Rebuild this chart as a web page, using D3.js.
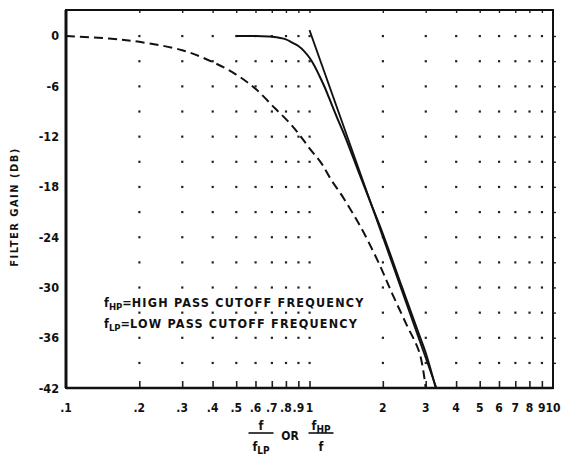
<!DOCTYPE html>
<html>
<head>
<meta charset="utf-8">
<script src="https://cdn.jsdelivr.net/npm/d3@7"></script>
<style>
  body { margin: 0; background: #fff; }
  text { font-family: "DejaVu Sans Condensed", "DejaVu Sans", sans-serif; font-weight: bold; fill: #111; }
</style>
</head>
<body>
<script>
var xTicks = [0.1, 0.2, 0.3, 0.4, 0.5, 0.6, 0.7, 0.8, 0.9, 1, 2, 3, 4, 5, 6, 7, 8, 9, 10],
    xTickLabels = ['.1', '.2', '.3', '.4', '.5', '.6', '.7', '.8', '.9', '1', '2', '3', '4', '5', '6', '7', '8', '9', '10'],
    gridCols = [0.2, 0.3, 0.4, 0.5, 0.6, 0.7, 0.8, 0.9, 1, 2, 3, 4, 5, 6, 7, 8, 9],
    gridRows = [0, -3, -6, -9, -12, -15, -18, -21, -24, -27, -30, -33, -36, -39],
    yTicks = [0, -6, -12, -18, -24, -30, -36, -42],
    yTickLabels = ['0', '-6', '-12', '-18', '-24', '-30', '-36', '-42'];

// sharp response (solid)
var solidFreq = [0.5, 0.6, 0.7, 0.8, 0.85, 0.9, 0.95, 1.0, 1.05, 1.1, 1.15, 1.2, 1.3, 1.4, 1.6, 1.8, 2.0, 2.4, 2.8, 3.0, 3.3],
    solidGain = [0, 0, -0.1, -0.4, -0.8, -1.2, -1.8, -2.6, -3.6, -4.8, -6.0, -7.3, -9.8, -12.0, -16.4, -20.2, -23.6, -30.0, -35.4, -37.8, -42];

// straight asymptote
var asymFreq = [1, 3.32],
    asymGain = [0.7, -42];

// gentle response (dashed)
var dashFreq = [0.1, 0.15, 0.2, 0.3, 0.4, 0.5, 0.6, 0.72, 0.83, 0.91, 1.0, 1.12, 1.23, 1.37, 1.53, 1.68, 1.94, 2.19, 2.5, 2.83, 3.0],
    dashGain = [0, -0.3, -0.7, -1.7, -3.1, -4.6, -6.3, -8.6, -10.4, -11.8, -13.4, -15.2, -17.2, -19.2, -21.5, -23.6, -27.3, -30.8, -34.4, -37.8, -42];

var W = 561, H = 455,
    margin = {left: 66, right: 8, top: 10, bottom: 67},
    width = W - margin.left - margin.right,
    height = H - margin.top - margin.bottom,
    x, y, svg, g, line;

x = d3.scaleLog().domain([0.1, 10]).range([0, width]);
y = d3.scaleLinear().domain([-42, 3.1]).range([height, 0]);

svg = d3.select("body").append("svg").attr("width", W).attr("height", H);
g = svg.append("g").attr("transform", "translate(" + margin.left + "," + margin.top + ")");

// dotted grid: a dot at every intersection
gridRows.forEach(function (r) {
  g.selectAll(null).data(gridCols).enter().append("rect")
    .attr("x", function (d) { return x(d) - 1; })
    .attr("y", y(r) - 1)
    .attr("width", 2.2).attr("height", 2.2)
    .attr("fill", "#222");
});

// bottom ticks pointing up
g.append("g").attr("transform", "translate(0," + height + ")")
  .call(d3.axisBottom(x).tickValues(gridCols).tickSize(-7).tickFormat(""))
  .call(function (a) { a.select(".domain").remove(); a.selectAll("line").attr("stroke", "#222").attr("stroke-width", 1.6); });
// top ticks pointing down
g.append("g")
  .call(d3.axisTop(x).tickValues(gridCols).tickSize(-3).tickFormat(""))
  .call(function (a) { a.select(".domain").remove(); a.selectAll("line").attr("stroke", "#222").attr("stroke-width", 1.4); });
// right ticks
g.append("g").attr("transform", "translate(" + width + ",0)")
  .call(d3.axisRight(y).tickValues(gridRows).tickSize(3).tickFormat(""))
  .call(function (a) { a.select(".domain").remove(); a.selectAll("line").attr("stroke", "#222").attr("stroke-width", 1.4); });

// frame
g.append("rect").attr("width", width).attr("height", height)
  .attr("fill", "none").attr("stroke", "#111").attr("stroke-width", 2);
g.append("line").attr("x1", 0).attr("x2", 0).attr("y1", 0).attr("y2", height)
  .attr("stroke", "#111").attr("stroke-width", 3);
g.append("line").attr("x1", 0).attr("x2", width).attr("y1", height).attr("y2", height)
  .attr("stroke", "#111").attr("stroke-width", 2.6);

// x tick labels
g.selectAll(".xl").data(xTicks).enter().append("text")
  .attr("x", function (d) { return x(d); })
  .attr("y", height + 24)
  .attr("text-anchor", "middle")
  .style("font-size", "12px")
  .text(function (d, i) { return xTickLabels[i]; });

// y tick labels
g.selectAll(".yl").data(yTicks).enter().append("text")
  .attr("x", -7)
  .attr("y", function (d) { return y(d); })
  .attr("dy", "0.36em")
  .attr("text-anchor", "end")
  .style("font-size", "12.5px")
  .text(function (d, i) { return yTickLabels[i]; });

line = d3.line()
  .x(function (d) { return x(d[0]); })
  .y(function (d) { return y(d[1]); })
  .curve(d3.curveCatmullRom.alpha(0.5));

g.append("path")
  .attr("d", line(solidFreq.map(function (f, i) { return [f, solidGain[i]]; })))
  .attr("fill", "none").attr("stroke", "#111").attr("stroke-width", 2);

g.append("path")
  .attr("d", d3.line().x(function (d) { return x(d[0]); }).y(function (d) { return y(d[1]); })(asymFreq.map(function (f, i) { return [f, asymGain[i]]; })))
  .attr("fill", "none").attr("stroke", "#111").attr("stroke-width", 1.8);

g.append("path")
  .attr("d", line(dashFreq.map(function (f, i) { return [f, dashGain[i]]; })))
  .attr("fill", "none").attr("stroke", "#111").attr("stroke-width", 2)
  .attr("stroke-dasharray", "9,5");

// legend text
function legendLine(px, py, sub, rest) {
  var t = svg.append("text").attr("x", px).attr("y", py).style("font-size", "12.5px");
  t.append("tspan").text("f");
  t.append("tspan").attr("dy", 3).style("font-size", "9.5px").text(sub);
  t.append("tspan").attr("dy", -3).text("=");
  t.append("tspan").style("letter-spacing", "1.2px").text(rest);
}
legendLine(104, 307, "HP", "HIGH PASS CUTOFF FREQUENCY");
legendLine(104, 328, "LP", "LOW PASS CUTOFF FREQUENCY");

// y axis title
svg.append("text")
  .attr("transform", "translate(18,207) rotate(-90)")
  .attr("text-anchor", "middle")
  .style("font-size", "11px")
  .style("letter-spacing", "1.5px")
  .text("FILTER GAIN (DB)");

// x axis title as two fractions
function frac(cx, num, numSub, den, denSub) {
  var n = svg.append("text").attr("x", cx).attr("y", 430).attr("text-anchor", "middle").style("font-size", "12.5px");
  n.append("tspan").text(num);
  if (numSub) n.append("tspan").attr("dy", 3).style("font-size", "10px").text(numSub);
  svg.append("line").attr("x1", cx - 12.5).attr("x2", cx + 12.5).attr("y1", 433).attr("y2", 433)
    .attr("stroke", "#111").attr("stroke-width", 1.6);
  var d = svg.append("text").attr("x", cx).attr("y", 451).attr("text-anchor", "middle").style("font-size", "12.5px");
  d.append("tspan").text(den);
  if (denSub) d.append("tspan").attr("dy", 3).style("font-size", "10px").text(denSub);
}
frac(261, "f", "", "f", "LP");
svg.append("text").attr("x", 290).attr("y", 440).attr("text-anchor", "middle").style("font-size", "12px").text("OR");
frac(321, "f", "HP", "f", "");
</script>
</body>
</html>
